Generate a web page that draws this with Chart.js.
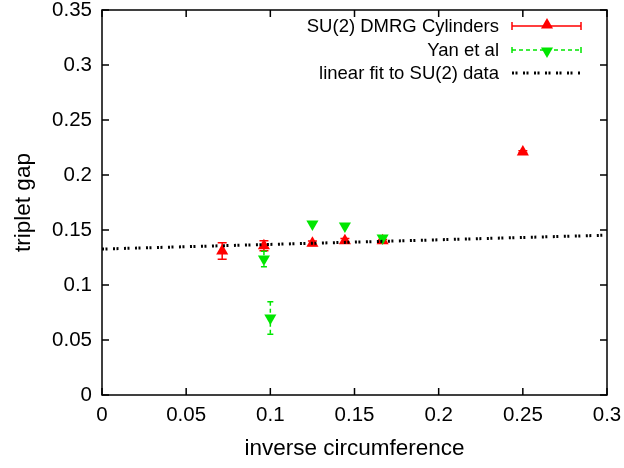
<!DOCTYPE html>
<html>
<head>
<meta charset="utf-8">
<script src="https://cdn.jsdelivr.net/npm/chart.js@4"></script>
<style>
  body { margin: 0; background: #fff; }
  #wrap { width: 624px; height: 468px; position: relative; }
</style>
</head>
<body>
<div id="wrap"><canvas id="myChart"></canvas></div>
<script>
'use strict'

// SU(2) DMRG cylinders: inverse circumference, triplet gap, error
const xCyl = [0.0714, 0.0962, 0.125, 0.1443, 0.1667, 0.25];
const gapCyl = [0.131, 0.1357, 0.138, 0.1403, 0.1403, 0.221];
const errCyl = [0.0075, 0.0045, 0.002, 0.002, 0.001, 0.001];

// Yan et al
const xYan = [0.0962, 0.1, 0.125, 0.1443, 0.1667];
const gapYan = [0.1236, 0.070, 0.1555, 0.1536, 0.1427];
const errYan = [0.007, 0.0147, 0, 0, 0.001];

// linear fit end points
const fitX = [0, 0.3];
const fitY = [0.1327, 0.1453];

const xTickVals = [0, 0.05, 0.1, 0.15, 0.2, 0.25, 0.3];
const xTickLabels = ['0', '0.05', '0.1', '0.15', '0.2', '0.25', '0.3'];
const yTickVals = [0, 0.05, 0.1, 0.15, 0.2, 0.25, 0.3, 0.35];
const yTickLabels = ['0', '0.05', '0.1', '0.15', '0.2', '0.25', '0.3', '0.35'];

const legendLabels = ['SU(2) DMRG Cylinders', 'Yan et al', 'linear fit to SU(2) data'];

const red = 'rgb(255, 0, 0)',
      green = 'rgb(0, 230, 0)',
      fontFam = '"Liberation Sans", Arial, sans-serif';

Chart.defaults.font.family = fontFam;
Chart.defaults.color = '#000';

function errBars(ctx, chart, xs, ys, es, color, dash, cap) {
  const sx = chart.scales.x, sy = chart.scales.y;
  ctx.save();
  ctx.strokeStyle = color;
  ctx.lineWidth = 1.5;
  xs.forEach((xv, i) => {
    if (!es[i]) return;
    const px = sx.getPixelForValue(xv),
          top = sy.getPixelForValue(ys[i] + es[i]),
          bot = sy.getPixelForValue(ys[i] - es[i]);
    ctx.setLineDash(dash);
    ctx.beginPath();
    ctx.moveTo(px, top); ctx.lineTo(px, bot);
    ctx.stroke();
    ctx.setLineDash([]);
    ctx.beginPath();
    ctx.moveTo(px - cap, top); ctx.lineTo(px + cap, top);
    ctx.moveTo(px - cap, bot); ctx.lineTo(px + cap, bot);
    ctx.stroke();
  });
  ctx.restore();
}

function tri(ctx, x, y, r, down, color) {
  ctx.save();
  ctx.fillStyle = color;
  ctx.beginPath();
  const s = down ? -1 : 1;
  ctx.moveTo(x, y - s * r);
  ctx.lineTo(x + r * 0.866, y + s * r * 0.5);
  ctx.lineTo(x - r * 0.866, y + s * r * 0.5);
  ctx.closePath();
  ctx.fill();
  ctx.restore();
}

const framePlugin = {
  id: 'frame',
  beforeDatasetsDraw(chart) {
    const ctx = chart.ctx;
    errBars(ctx, chart, xCyl, gapCyl, errCyl, red, [], 4.5);
    errBars(ctx, chart, xYan, gapYan, errYan, green, [4, 3], 3);
  },
  afterDraw(chart) {
    const ctx = chart.ctx,
          a = chart.chartArea,
          sx = chart.scales.x, sy = chart.scales.y,
          tl = 7;
    ctx.save();
    ctx.strokeStyle = '#000';
    ctx.lineWidth = 1.5;
    ctx.strokeRect(a.left, a.top, a.right - a.left, a.bottom - a.top);
    ctx.beginPath();
    xTickVals.forEach(v => {
      const px = sx.getPixelForValue(v);
      ctx.moveTo(px, a.bottom); ctx.lineTo(px, a.bottom - tl);
      ctx.moveTo(px, a.top); ctx.lineTo(px, a.top + tl);
    });
    yTickVals.forEach(v => {
      const py = sy.getPixelForValue(v);
      ctx.moveTo(a.left, py); ctx.lineTo(a.left + tl, py);
      ctx.moveTo(a.right, py); ctx.lineTo(a.right - tl, py);
    });
    ctx.stroke();

    // legend
    const rows = [26, 50, 73],
          tx = 499, l0 = 512, l1 = 581, mid = 547;
    ctx.fillStyle = '#000';
    ctx.font = '18.5px ' + fontFam;
    ctx.textAlign = 'right';
    ctx.textBaseline = 'middle';
    legendLabels.forEach((t, i) => ctx.fillText(t, tx, rows[i] + 1));

    // red sample
    ctx.strokeStyle = red;
    ctx.beginPath();
    ctx.moveTo(l0, rows[0]); ctx.lineTo(l1, rows[0]);
    ctx.moveTo(l0, rows[0] - 4); ctx.lineTo(l0, rows[0] + 4);
    ctx.moveTo(l1, rows[0] - 4); ctx.lineTo(l1, rows[0] + 4);
    ctx.stroke();
    tri(ctx, mid, rows[0] - 1, 7, false, red);

    // green sample
    ctx.strokeStyle = green;
    ctx.setLineDash([4, 3]);
    ctx.beginPath();
    ctx.moveTo(l0, rows[1]); ctx.lineTo(l1, rows[1]);
    ctx.stroke();
    ctx.setLineDash([]);
    ctx.beginPath();
    ctx.moveTo(l0, rows[1] - 3); ctx.lineTo(l0, rows[1] + 3);
    ctx.moveTo(l1, rows[1] - 3); ctx.lineTo(l1, rows[1] + 3);
    ctx.stroke();
    tri(ctx, mid, rows[1] + 1, 7, true, green);

    // fit sample
    ctx.strokeStyle = '#000';
    ctx.lineWidth = 3;
    ctx.setLineDash([2, 1.5, 2, 5.5]);
    ctx.beginPath();
    ctx.moveTo(l0, rows[2]); ctx.lineTo(l1, rows[2]);
    ctx.stroke();
    ctx.restore();
  }
};

const ctx = document.querySelector('#myChart');

new Chart(ctx, {
  type: 'scatter',
  data: {
    datasets: [{
      label: legendLabels[0],
      data: xCyl.map((x, i) => ({ x: x, y: gapCyl[i] })),
      pointStyle: 'triangle',
      pointRadius: 7,
      backgroundColor: red,
      borderColor: red,
      borderWidth: 0,
      order: 3
    }, {
      label: legendLabels[1],
      data: xYan.map((x, i) => ({ x: x, y: gapYan[i] })),
      pointStyle: 'triangle',
      rotation: 180,
      pointRadius: 7,
      backgroundColor: green,
      borderColor: green,
      borderWidth: 0,
      order: 2
    }, {
      label: legendLabels[2],
      type: 'line',
      data: fitX.map((x, i) => ({ x: x, y: fitY[i] })),
      borderColor: '#000',
      borderWidth: 3,
      borderDash: [2, 1.5, 2, 5.5],
      pointRadius: 0,
      fill: false,
      order: 1
    }]
  },
  options: {
    responsive: true,
    maintainAspectRatio: false,
    animation: false,
    events: [],
    layout: {
      padding: { top: 10, right: 17, left: 0, bottom: 0 }
    },
    scales: {
      x: {
        type: 'linear',
        min: 0,
        max: 0.3,
        afterBuildTicks: s => { s.ticks = xTickVals.map(v => ({ value: v })); },
        afterFit: s => { s.height = 73; s.paddingLeft = 0; s.paddingRight = 0; },
        ticks: {
          padding: 8,
          maxRotation: 0,
          color: '#000',
          font: { size: 20.5 },
          callback: (v, i) => xTickLabels[i]
        },
        grid: { display: false, drawTicks: false },
        border: { display: false },
        title: {
          display: true,
          text: 'inverse circumference',
          color: '#000',
          font: { size: 22.5 },
          padding: { top: 0, bottom: 6 }
        }
      },
      y: {
        type: 'linear',
        min: 0,
        max: 0.35,
        afterBuildTicks: s => { s.ticks = yTickVals.map(v => ({ value: v })); },
        afterFit: s => { s.width = 102; s.paddingTop = 0; s.paddingBottom = 0; },
        ticks: {
          padding: 10,
          color: '#000',
          font: { size: 20.5 },
          callback: (v, i) => yTickLabels[i]
        },
        grid: { display: false, drawTicks: false },
        border: { display: false },
        title: {
          display: true,
          text: 'triplet gap',
          color: '#000',
          font: { size: 22.5 },
          padding: { top: 10, bottom: 0 }
        }
      }
    },
    plugins: {
      legend: { display: false },
      tooltip: { enabled: false }
    }
  },
  plugins: [framePlugin]
});
</script>
</body>
</html>
